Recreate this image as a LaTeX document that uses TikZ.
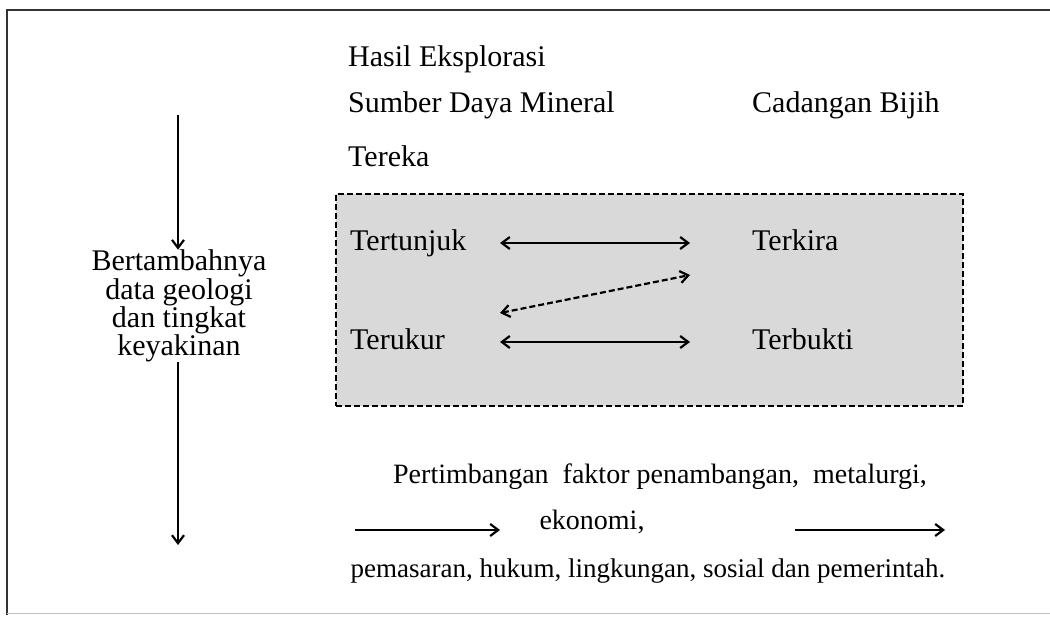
\documentclass[tikz,border=0pt]{standalone}
\usepackage{fontspec}
\setmainfont{Liberation Serif}
\usetikzlibrary{arrows.meta}
\begin{document}
\begin{tikzpicture}[x=1pt,y=-1pt,
  lbl/.style={font=\fontsize{30}{24}\selectfont, inner sep=0pt, anchor=west, text height=20pt, text depth=6pt},
  conn/.style={line width=2.2pt, {Straight Barb[length=8pt,width=12pt]}-{Straight Barb[length=8pt,width=12pt]}},
  oneway/.style={line width=2.2pt, -{Straight Barb[length=8pt,width=12pt]}},
  zone/.style={draw=black, dash pattern=on 6pt off 3pt, line width=2pt, fill=black!15}]
  \useasboundingbox (0,0) rectangle (1050,623);
  % outer frame
  \draw[line width=1.5pt, black!80] (1050,10) -- (7,10) -- (7,615);
  \draw[line width=1pt, black!25] (7,613) -- (1050,613);

  % headings
  \node[lbl] (hasil) at (348,60) {Hasil Eksplorasi};
  \node[lbl] (sdm) at (348,106) {Sumber Daya Mineral};
  \node[lbl] (cad) at (752,106) {Cadangan Bijih};
  \node[lbl] (tereka) at (348,160) {Tereka};

  % classification zone
  \node[zone, minimum width=627pt, minimum height=212pt, anchor=north west] (zone) at (335,193) {};
  \node[lbl] (tertunjuk) at (350,243) {Tertunjuk};
  \node[lbl] (terkira) at (752,243) {Terkira};
  \node[lbl] (terukur) at (350,342) {Terukur};
  \node[lbl] (terbukti) at (752,342) {Terbukti};
  \coordinate (a1) at (500,243);
  \coordinate (b1) at (690,243);
  \coordinate (a2) at (500,342);
  \coordinate (b2) at (690,342);
  \coordinate (a3) at (500,313);
  \coordinate (b3) at (690,275);
  \draw[conn] (a1) -- (b1);
  \draw[conn] (a2) -- (b2);
  \draw[conn, dash pattern=on 6pt off 3pt] (a3) -- (b3);

  % left: confidence axis
  \node[font=\fontsize{30}{23}\selectfont, inner sep=0pt, align=center] (conf) at (179,306)
    {Bertambahnya\\data geologi\\dan tingkat\\keyakinan};
  \coordinate (ctop) at (178,115);
  \coordinate (cbot) at (178,545);
  \draw[oneway] (ctop) -- (ctop |- conf.north);
  \draw[oneway] (cbot |- conf.south) -- (cbot);

  % bottom: modifying factors
  \node[font=\fontsize{28}{23}\selectfont, inner sep=0pt] (pert) at (660,477) {Pertimbangan\ \ faktor penambangan,\ \ metalurgi,};
  \node[font=\fontsize{28}{23}\selectfont, inner sep=0pt] (eko) at (592,522) {ekonomi,};
  \node[font=\fontsize{27}{23}\selectfont, inner sep=0pt] (pem) at (648,571) {pemasaran,\ hukum,\ lingkungan,\ sosial dan pemerintah.};
  \coordinate (l1) at (355,530);
  \coordinate (l2) at (500,530);
  \coordinate (r1) at (795,530);
  \coordinate (r2) at (945,530);
  \draw[oneway] (l1) -- (l2);
  \draw[oneway] (r1) -- (r2);
\end{tikzpicture}
\end{document}
